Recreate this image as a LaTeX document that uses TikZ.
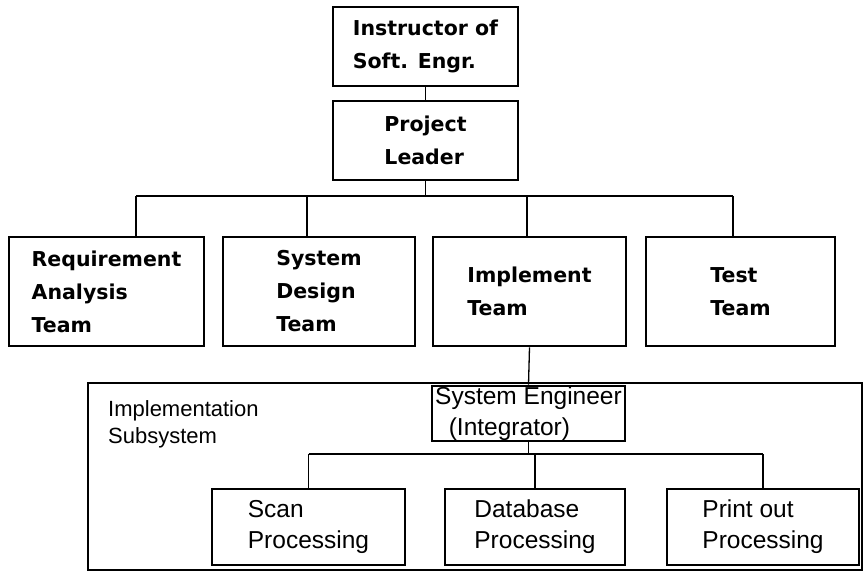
\documentclass[tikz,border=0pt]{standalone}
\usepackage{fontspec}
\newfontfamily\boxfont{DejaVu Sans}
\newfontfamily\subfont{Liberation Sans}
\usetikzlibrary{positioning}

\begin{document}
\begin{tikzpicture}[x=1bp,y=-1bp,
    team/.style={draw,line width=2.8bp,inner sep=0pt,align=left,
                 font=\boxfont\bfseries\fontsize{20.5bp}{33bp}\selectfont},
    unit/.style={draw,line width=2.8bp,inner sep=0pt,align=left,
                 font=\subfont\fontsize{24.5bp}{31bp}\selectfont},
    frame/.style={draw,line width=1.4bp,inner sep=0pt},
    link/.style={line width=1.3bp}]
  \useasboundingbox (0,0) rectangle (864,577);

  % top of the chart
  \node[team,minimum width=185bp,minimum height=79bp] (instr) at (425.5,46.5)
       {Instructor of\\Soft. Engr.};
  \node[team,minimum width=185bp,minimum height=79bp] (lead) at (425.5,140.5)
       {Project\\Leader};

  % the four teams
  \node[team,minimum width=195bp,minimum height=109bp] (req) at (106.5,291.5)
       {Requirement\\Analysis\\Team};
  \node[team,minimum width=192bp,minimum height=109bp] (des) at (319,291.5)
       {System\\Design\\Team};
  \node[team,minimum width=193bp,minimum height=109bp] (imp) at (529.5,291.5)
       {Implement\\Team};
  \node[team,minimum width=189bp,minimum height=109bp] (tst) at (740.5,291.5)
       {Test\\Team};

  % implementation subsystem
  \node[frame,minimum width=774bp,minimum height=187bp] (subsys) at (475,476.5) {};
  \node[anchor=west,align=left,inner sep=0pt,
        font=\subfont\fontsize{22bp}{27bp}\selectfont] (sublabel) at (108,424)
       {Implementation\\Subsystem};
  \node[unit,minimum width=193bp,minimum height=55bp] (se) at (528.5,413.5)
       {System Engineer\\\ \ (Integrator)};
  \node[unit,minimum width=193bp,minimum height=76bp] (scan) at (308.5,527)
       {Scan\\Processing};
  \node[unit,minimum width=180bp,minimum height=76bp] (db) at (535,527)
       {Database\\Processing};
  \node[unit,minimum width=192bp,minimum height=76bp] (prt) at (763,527)
       {Print out\\Processing};

  % connectors
  \coordinate (bus) at (0,196);
  \coordinate (subbus) at (0,454);
  \draw[link] (instr.south) -- (lead.north);
  \draw[link] (lead.south) -- (lead.south |- bus);
  \draw[link] ([xshift=29.5bp]req.north |- bus) -- ([xshift=-7.5bp]tst.north |- bus);
  \foreach \n/\dx in {req/29.5, des/-12, imp/-2.5, tst/-7.5}{
     \draw[link] ([xshift=\dx bp]\n.north |- bus) -- ([xshift=\dx bp]\n.north);
  }
  \draw[link] (imp.south) -- (se.north);
  \draw[link] (se.south) -- (se.south |- subbus);
  \draw[link] (scan.north |- subbus) -- (prt.north |- subbus);
  \foreach \n in {scan,db,prt}{
     \draw[link] (\n.north |- subbus) -- (\n.north);
  }
\end{tikzpicture}
\end{document}
